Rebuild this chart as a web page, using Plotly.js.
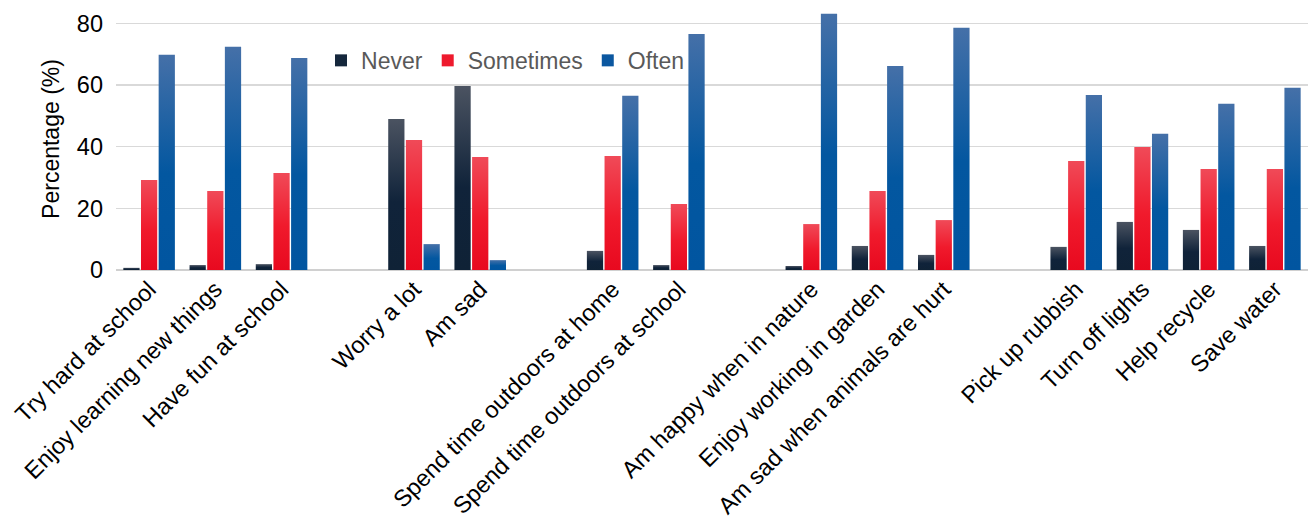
<!DOCTYPE html>
<html>
<head>
<meta charset="utf-8">
<script src="https://cdn.plot.ly/plotly-3.0.1.min.js"></script>
<style>html,body{margin:0;padding:0;background:#fff;}#chart{width:1308px;height:526px;}</style>
</head>
<body>
<div id="chart"></div>
<script>
// Categories (blank strings are spacer slots between groups)
const categories = [
  "Try hard at school", "Enjoy learning new things", "Have fun at school", " ",
  "Worry a lot", "Am sad", "  ",
  "Spend time outdoors at home", "Spend time outdoors at school", "   ",
  "Am happy when in nature", "Enjoy working in garden", "Am sad when animals are hurt", "    ",
  "Pick up rubbish", "Turn off lights", "Help recycle", "Save water"
];
const never     = [0.7, 1.6, 1.9, null, 49.0, 59.7, null, 6.2, 1.6, null, 1.3, 7.8, 4.9, null, 7.5, 15.6, 13.0, 7.8];
const sometimes = [29.2, 25.6, 31.5, null, 42.2, 36.7, null, 37.0, 21.4, null, 14.9, 25.6, 16.2, null, 35.4, 39.9, 32.8, 32.8];
const often     = [69.8, 72.4, 68.8, null, 8.4, 3.2, null, 56.5, 76.6, null, 83.1, 66.2, 78.6, null, 56.8, 44.2, 53.9, 59.1];
const yTicks = [0, 20, 40, 60, 80];

const font = "Liberation Sans, Arial, sans-serif";
const series = [
  {name: "Never", y: never, color: "#15273c", top: "#4b5361", mid: "#10233a", bottom: "#0f2236"},
  {name: "Sometimes", y: sometimes, color: "#ee1a2d", top: "#f04a58", mid: "#f01a2c", bottom: "#e8091f"},
  {name: "Often", y: often, color: "#0b57a0", top: "#4570a8", mid: "#0357a0", bottom: "#0155a0"}
];
const traces = series.map(s => ({
  type: "bar", name: s.name, x: categories, y: s.y,
  marker: {color: s.color, line: {width: 0}},
  hoverinfo: "y+name"
}));

const layout = {
  width: 1308, height: 526,
  margin: {l: 116, r: 0, t: 8, b: 256},
  paper_bgcolor: "#fff", plot_bgcolor: "#fff",
  barmode: "group", bargap: 0.2, bargroupgap: 0.08,
  font: {family: font, color: "#000"},
  showlegend: true,
  legend: {
    orientation: "h", x: 0.172, y: 0.80, xanchor: "left", yanchor: "middle",
    font: {size: 23, color: "#595959", family: font},
    bgcolor: "rgba(0,0,0,0)", tracegroupgap: 0
  },
  xaxis: {
    type: "category", categoryorder: "array", categoryarray: categories,
    tickangle: -45, tickfont: {size: 23.5, color: "#000", family: font},
    showgrid: false, showline: false, ticks: "", zeroline: false,
    automargin: false
  },
  yaxis: {
    range: [0, 85], tickvals: yTicks, ticktext: yTicks.map(String),
    tickfont: {size: 23.5, color: "#000", family: font},
    ticklabelstandoff: 12,
    showgrid: true, gridcolor: "#d9d9d9", gridwidth: 1.5,
    zeroline: true, zerolinecolor: "#d0d0d0", zerolinewidth: 2.5,
    showline: false, ticks: "", ticklen: 0,
    title: {text: "Percentage (%)", font: {size: 23, color: "#000", family: font}, standoff: 10},
    automargin: false
  }
};

function applyGradients(gd) {
  const svg = gd.querySelector("svg.main-svg");
  if (!svg) return;
  const ns = "http://www.w3.org/2000/svg";
  let defs = svg.querySelector("defs#barGrads");
  if (!defs) {
    defs = document.createElementNS(ns, "defs");
    defs.setAttribute("id", "barGrads");
    svg.insertBefore(defs, svg.firstChild);
    series.forEach((s, i) => {
      const g = document.createElementNS(ns, "linearGradient");
      g.setAttribute("id", "bg" + i);
      g.setAttribute("x1", "0"); g.setAttribute("y1", "0");
      g.setAttribute("x2", "0"); g.setAttribute("y2", "1");
      [[0, s.top], [0.55, s.mid], [1, s.bottom]].forEach(([o, c]) => {
        const st = document.createElementNS(ns, "stop");
        st.setAttribute("offset", o);
        st.setAttribute("stop-color", c);
        g.appendChild(st);
      });
      defs.appendChild(g);
    });
  }
  gd.querySelectorAll(".barlayer .trace.bars").forEach((t, i) => {
    t.querySelectorAll("path").forEach(p => { p.style.fill = "url(#bg" + i + ")"; });
  });
}

Plotly.newPlot("chart", traces, layout, {displayModeBar: false, staticPlot: true})
  .then(gd => applyGradients(gd));
</script>
</body>
</html>
